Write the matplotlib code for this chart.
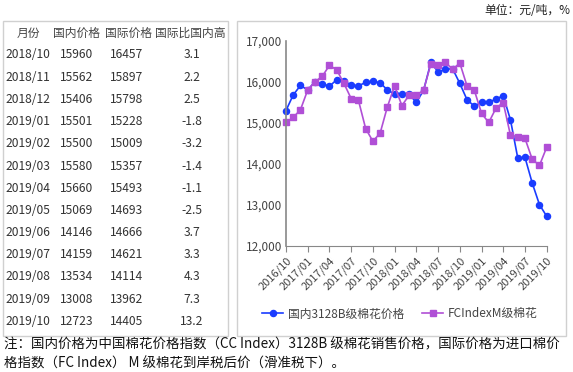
import numpy as np
import matplotlib
matplotlib.use("Agg")
import matplotlib.pyplot as plt
from matplotlib.patches import Rectangle

plt.rcParams['font.family'] = ['Noto Sans CJK SC', 'DejaVu Sans']

# table data
months = ["2018/10", "2018/11", "2018/12", "2019/01", "2019/02", "2019/03", "2019/04",
          "2019/05", "2019/06", "2019/07", "2019/08", "2019/09", "2019/10"]
dom_tab = [15960, 15562, 15406, 15501, 15500, 15580, 15660, 15069, 14146, 14159, 13534, 13008, 12723]
intl_tab = [16457, 15897, 15798, 15228, 15009, 15357, 15493, 14693, 14666, 14621, 14114, 13962, 14405]
diff_tab = ["3.1", "2.2", "2.5", "-1.8", "-3.2", "-1.4", "-1.1", "-2.5", "3.7", "3.3", "4.3", "7.3", "13.2"]
headers = ["月份", "国内价格", "国际价格", "国际比国内高"]

# chart data, monthly 2016/10 - 2019/10
domestic = [15300, 15680, 15910, 15800, 16000, 15950, 15890, 16050, 16020, 15920, 15900, 15985,
            16010, 15975, 15800, 15700, 15710, 15690, 15500, 15790, 16470, 16240, 16300, 16320,
            15960, 15562, 15406, 15501, 15500, 15580, 15660, 15069, 14146, 14159, 13534, 13008, 12723]
fcindex = [15010, 15130, 15320, 15800, 16000, 16130, 16400, 16290, 15960, 15590, 15550, 14860,
           14550, 14750, 15390, 15900, 15420, 15670, 15670, 15800, 16430, 16420, 16480, 16300,
           16457, 15897, 15798, 15228, 15009, 15357, 15493, 14693, 14666, 14621, 14114, 13962, 14405]
xlabels = ["2016/10", "2017/01", "2017/04", "2017/07", "2017/10", "2018/01", "2018/04",
           "2018/07", "2018/10", "2019/01", "2019/04", "2019/07", "2019/10"]

W, H = 573, 372
fig = plt.figure(figsize=(W / 100, H / 100), dpi=100)

def fx(px):
    return px / W

def fy(py):
    return 1 - py / H

# boxes
fig.patches.append(Rectangle((fx(3), fy(336)), fx(225), 315 / H, transform=fig.transFigure,
                             fill=False, edgecolor="#d0d0d0", lw=1))
fig.patches.append(Rectangle((fx(237), fy(336)), fx(329), 315 / H, transform=fig.transFigure,
                             fill=False, edgecolor="#d0d0d0", lw=1))

fig.text(fx(570), fy(11), "单位：元/吨，%", ha="right", va="center", fontsize=8.5, color="#222222")

# table
col_x = [28, 77, 128, 190]
for cx, h in zip(col_x, headers):
    fig.text(fx(cx), fy(33), h, ha="center", va="center", fontsize=8.5, color="#444444")
for i in range(len(months)):
    yy = fy(55 + i * 22.2)
    fig.text(fx(5), yy, months[i], ha="left", va="center", fontsize=8.7, color="#333333")
    fig.text(fx(77), yy, str(dom_tab[i]), ha="center", va="center", fontsize=8.7, color="#333333")
    fig.text(fx(127), yy, str(intl_tab[i]), ha="center", va="center", fontsize=8.7, color="#333333")
    fig.text(fx(192), yy, diff_tab[i], ha="center", va="center", fontsize=8.7, color="#333333")

# chart
ax = fig.add_axes([fx(286), fy(246), fx(260.7), 205.3 / H])
x = np.arange(len(domestic))
ax.plot(x, domestic, color="#1a3cff", marker="o", ms=4.4, lw=1.2, clip_on=False,
        label="国内3128B级棉花价格")
ax.plot(x, fcindex, color="#b04fd6", marker="s", ms=4.4, lw=1.2, clip_on=False,
        label="FCIndexM级棉花")
ax.set_xlim(0, 36)
ax.set_ylim(12000, 17000)
ax.set_yticks([12000, 13000, 14000, 15000, 16000, 17000])
ax.set_yticklabels(["{:,}".format(v) for v in [12000, 13000, 14000, 15000, 16000, 17000]],
                   fontsize=8.5, color="#444444")
ax.set_xticks(np.arange(0, 37, 3))
ax.set_xticklabels(xlabels, rotation=45, ha="right", rotation_mode="anchor",
                   fontsize=8, color="#444444")
ax.tick_params(axis="y", length=0, pad=3)
ax.tick_params(axis="x", length=4, color="#888888", pad=3)
for s in ["top", "right"]:
    ax.spines[s].set_visible(False)
ax.spines["left"].set_color("#888888")
ax.spines["bottom"].set_color("#888888")
ax.spines["left"].set_linewidth(1.2)
ax.patch.set_alpha(0)

fig.legend(loc="center", bbox_to_anchor=(fx(400), fy(314)), ncol=2, frameon=False,
           fontsize=8.5, handlelength=1.8, columnspacing=1.5, handletextpad=0.4,
           labelcolor="#444444")

fig.text(fx(4), fy(344), "注：国内价格为中国棉花价格指数（CC Index）3128B 级棉花销售价格，国际价格为进口棉价",
         ha="left", va="center", fontsize=9.7, color="#111111")
fig.text(fx(4), fy(364), "格指数（FC Index） M 级棉花到岸税后价（滑准税下）。",
         ha="left", va="center", fontsize=9.7, color="#111111")

fig.savefig("out.png", dpi=100)
